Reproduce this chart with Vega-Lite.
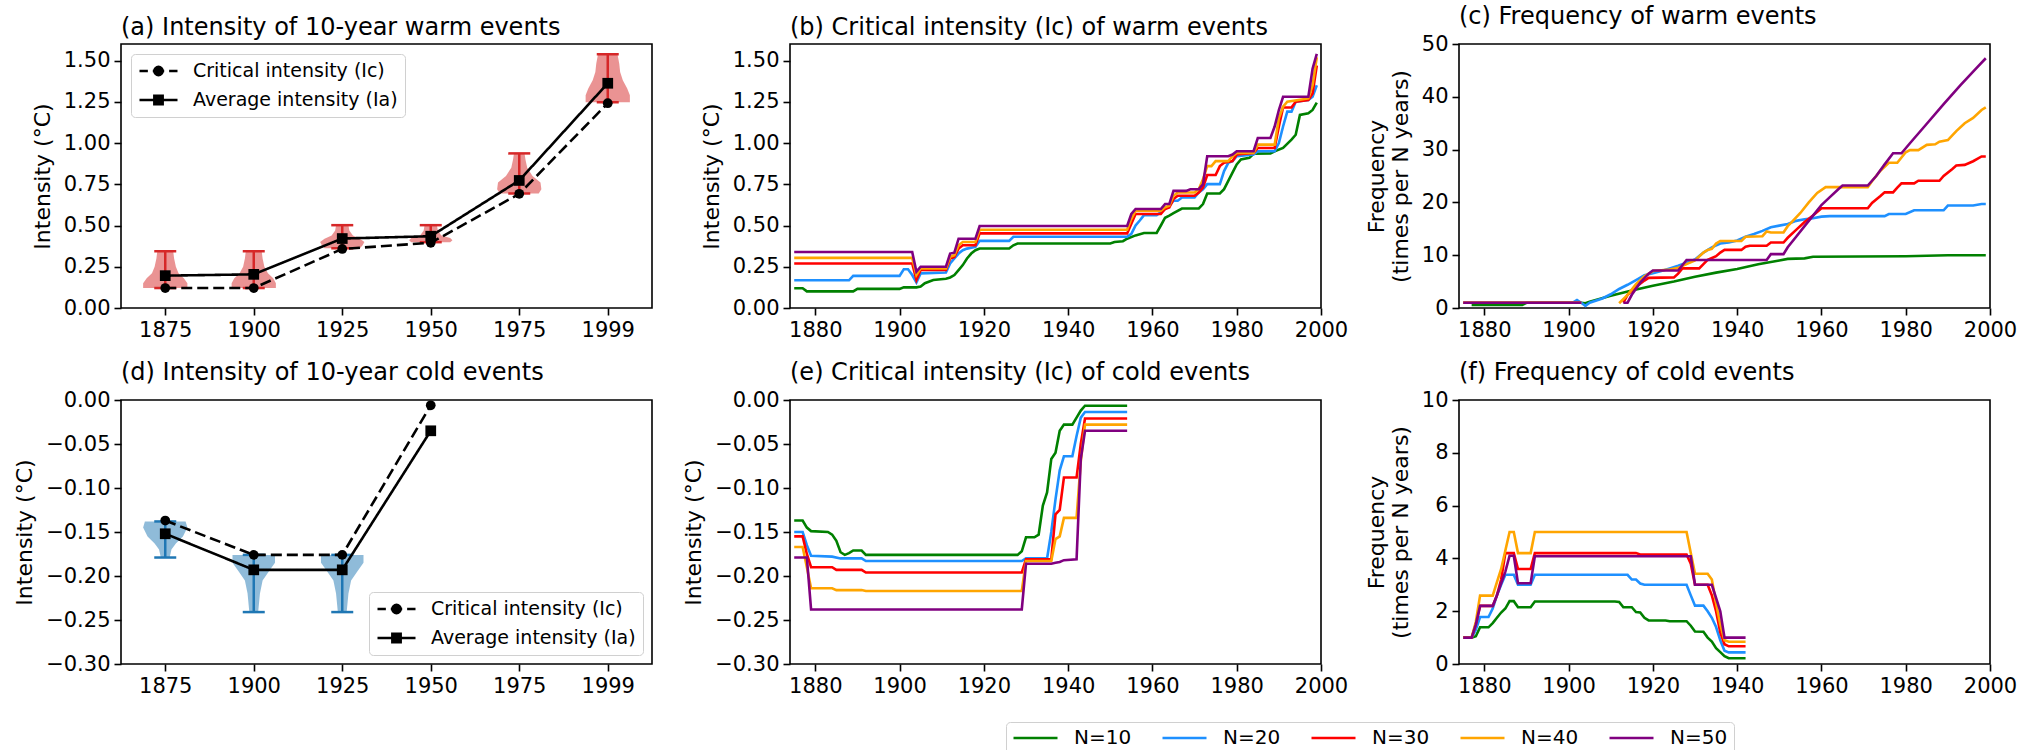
{
"$schema": "https://vega.github.io/schema/vega-lite/v6.json",
"padding": {"left": 12, "top": 4, "right": 5, "bottom": 0},
"background": "white",
"config": {
  "font": "DejaVu Sans",
  "view": {"stroke": "black", "strokeWidth": 1.6},
  "axis": {"grid": false, "domain": false, "tickColor": "black", "tickSize": 7, "tickWidth": 1.6, "labelFontSize": 21, "labelColor": "black", "labelPadding": 4, "titleFontSize": 22, "titleFontWeight": "normal", "titleColor": "black", "titlePadding": 9, "labelFlush": false, "labelOverlap": false},
  "title": {"fontSize": 24, "fontWeight": "normal", "anchor": "start", "frame": "group", "offset": 0, "color": "black"},
  "line": {"strokeWidth": 2.6}
},
"datasets": {
  "a": [
    {"p":0,"s":"Critical intensity (Ic)","v":0.121},{"p":1,"s":"Critical intensity (Ic)","v":0.121},{"p":2,"s":"Critical intensity (Ic)","v":0.358},{"p":3,"s":"Critical intensity (Ic)","v":0.395},{"p":4,"s":"Critical intensity (Ic)","v":0.692},{"p":5,"s":"Critical intensity (Ic)","v":1.241},
    {"p":0,"s":"Average intensity (Ia)","v":0.196},{"p":1,"s":"Average intensity (Ia)","v":0.204},{"p":2,"s":"Average intensity (Ia)","v":0.421},{"p":3,"s":"Average intensity (Ia)","v":0.435},{"p":4,"s":"Average intensity (Ia)","v":0.773},{"p":5,"s":"Average intensity (Ia)","v":1.362}
  ],
  "aerr": [
    {"p":0,"lo":0.121,"hi":0.344},{"p":1,"lo":0.121,"hi":0.344},{"p":2,"lo":0.362,"hi":0.502},{"p":3,"lo":0.399,"hi":0.502},{"p":4,"lo":0.694,"hi":0.937},{"p":5,"lo":1.247,"hi":1.538}
  ],
  "aviol": [
    {"p":0,"y":0.121,"lo":-0.25,"hi":0.25},{"p":0,"y":0.15,"lo":-0.25,"hi":0.25},{"p":0,"y":0.18,"lo":-0.21,"hi":0.21},{"p":0,"y":0.21,"lo":-0.15,"hi":0.15},{"p":0,"y":0.25,"lo":-0.12,"hi":0.12},{"p":0,"y":0.30,"lo":-0.10,"hi":0.10},{"p":0,"y":0.344,"lo":-0.09,"hi":0.09},
    {"p":1,"y":0.121,"lo":0.75,"hi":1.25},{"p":1,"y":0.15,"lo":0.75,"hi":1.25},{"p":1,"y":0.18,"lo":0.78,"hi":1.22},{"p":1,"y":0.21,"lo":0.84,"hi":1.16},{"p":1,"y":0.25,"lo":0.88,"hi":1.12},{"p":1,"y":0.30,"lo":0.90,"hi":1.10},{"p":1,"y":0.344,"lo":0.91,"hi":1.09},
    {"p":2,"y":0.362,"lo":1.80,"hi":2.20},{"p":2,"y":0.38,"lo":1.77,"hi":2.23},{"p":2,"y":0.40,"lo":1.75,"hi":2.25},{"p":2,"y":0.42,"lo":1.80,"hi":2.20},{"p":2,"y":0.44,"lo":1.88,"hi":2.12},{"p":2,"y":0.47,"lo":1.92,"hi":2.08},{"p":2,"y":0.502,"lo":1.93,"hi":2.07},
    {"p":3,"y":0.399,"lo":2.78,"hi":3.22},{"p":3,"y":0.41,"lo":2.755,"hi":3.245},{"p":3,"y":0.425,"lo":2.78,"hi":3.22},{"p":3,"y":0.44,"lo":2.88,"hi":3.12},{"p":3,"y":0.47,"lo":2.92,"hi":3.08},{"p":3,"y":0.502,"lo":2.93,"hi":3.07},
    {"p":4,"y":0.694,"lo":3.78,"hi":4.22},{"p":4,"y":0.72,"lo":3.75,"hi":4.25},{"p":4,"y":0.76,"lo":3.76,"hi":4.24},{"p":4,"y":0.80,"lo":3.85,"hi":4.15},{"p":4,"y":0.85,"lo":3.91,"hi":4.09},{"p":4,"y":0.90,"lo":3.93,"hi":4.07},{"p":4,"y":0.937,"lo":3.94,"hi":4.06},
    {"p":5,"y":1.247,"lo":4.75,"hi":5.25},{"p":5,"y":1.29,"lo":4.75,"hi":5.25},{"p":5,"y":1.33,"lo":4.78,"hi":5.22},{"p":5,"y":1.38,"lo":4.83,"hi":5.17},{"p":5,"y":1.43,"lo":4.86,"hi":5.14},{"p":5,"y":1.48,"lo":4.87,"hi":5.13},{"p":5,"y":1.538,"lo":4.89,"hi":5.11}
  ],
  "d": [
    {"p":0,"s":"Critical intensity (Ic)","v":-0.137},{"p":1,"s":"Critical intensity (Ic)","v":-0.176},{"p":2,"s":"Critical intensity (Ic)","v":-0.176},{"p":3,"s":"Critical intensity (Ic)","v":-0.006},
    {"p":0,"s":"Average intensity (Ia)","v":-0.152},{"p":1,"s":"Average intensity (Ia)","v":-0.193},{"p":2,"s":"Average intensity (Ia)","v":-0.193},{"p":3,"s":"Average intensity (Ia)","v":-0.035}
  ],
  "derr": [
    {"p":0,"lo":-0.179,"hi":-0.138},{"p":1,"lo":-0.241,"hi":-0.176},{"p":2,"lo":-0.241,"hi":-0.176}
  ],
  "dviol": [
    {"p":0,"y":-0.179,"lo":-0.05,"hi":0.05},{"p":0,"y":-0.17,"lo":-0.07,"hi":0.07},{"p":0,"y":-0.163,"lo":-0.12,"hi":0.12},{"p":0,"y":-0.155,"lo":-0.20,"hi":0.20},{"p":0,"y":-0.145,"lo":-0.25,"hi":0.25},{"p":0,"y":-0.138,"lo":-0.23,"hi":0.23},
    {"p":1,"y":-0.241,"lo":0.95,"hi":1.05},{"p":1,"y":-0.22,"lo":0.93,"hi":1.07},{"p":1,"y":-0.205,"lo":0.90,"hi":1.10},{"p":1,"y":-0.195,"lo":0.83,"hi":1.17},{"p":1,"y":-0.185,"lo":0.76,"hi":1.24},{"p":1,"y":-0.176,"lo":0.76,"hi":1.24},
    {"p":2,"y":-0.241,"lo":1.95,"hi":2.05},{"p":2,"y":-0.22,"lo":1.93,"hi":2.07},{"p":2,"y":-0.205,"lo":1.90,"hi":2.10},{"p":2,"y":-0.195,"lo":1.83,"hi":2.17},{"p":2,"y":-0.185,"lo":1.76,"hi":2.24},{"p":2,"y":-0.176,"lo":1.76,"hi":2.24}
  ],
  "b": [
    {"N":"N=10","t":1875,"v":0.12},{"N":"N=10","t":1877,"v":0.12},{"N":"N=10","t":1878,"v":0.101},{"N":"N=10","t":1889,"v":0.101},{"N":"N=10","t":1890,"v":0.116},{"N":"N=10","t":1900,"v":0.116},{"N":"N=10","t":1901,"v":0.126},{"N":"N=10","t":1904,"v":0.125},{"N":"N=10","t":1905,"v":0.13},{"N":"N=10","t":1906,"v":0.15},{"N":"N=10","t":1908,"v":0.17},{"N":"N=10","t":1911,"v":0.177},{"N":"N=10","t":1912,"v":0.185},{"N":"N=10","t":1913,"v":0.2},{"N":"N=10","t":1914,"v":0.23},{"N":"N=10","t":1915,"v":0.26},{"N":"N=10","t":1916,"v":0.30},{"N":"N=10","t":1917,"v":0.33},{"N":"N=10","t":1918,"v":0.35},{"N":"N=10","t":1919,"v":0.361},{"N":"N=10","t":1926,"v":0.361},{"N":"N=10","t":1927,"v":0.38},{"N":"N=10","t":1928,"v":0.391},{"N":"N=10","t":1950,"v":0.391},{"N":"N=10","t":1951,"v":0.40},{"N":"N=10","t":1953,"v":0.405},{"N":"N=10","t":1954,"v":0.42},{"N":"N=10","t":1956,"v":0.44},{"N":"N=10","t":1958,"v":0.455},{"N":"N=10","t":1961,"v":0.455},{"N":"N=10","t":1962,"v":0.50},{"N":"N=10","t":1963,"v":0.547},{"N":"N=10","t":1964,"v":0.56},{"N":"N=10","t":1965,"v":0.575},{"N":"N=10","t":1967,"v":0.603},{"N":"N=10","t":1971,"v":0.603},{"N":"N=10","t":1972,"v":0.63},{"N":"N=10","t":1973,"v":0.694},{"N":"N=10","t":1976,"v":0.694},{"N":"N=10","t":1977,"v":0.72},{"N":"N=10","t":1978,"v":0.77},{"N":"N=10","t":1979,"v":0.82},{"N":"N=10","t":1980,"v":0.87},{"N":"N=10","t":1981,"v":0.90},{"N":"N=10","t":1983,"v":0.91},{"N":"N=10","t":1984,"v":0.935},{"N":"N=10","t":1988,"v":0.937},{"N":"N=10","t":1989,"v":0.95},{"N":"N=10","t":1991,"v":0.97},{"N":"N=10","t":1993,"v":1.02},{"N":"N=10","t":1994,"v":1.05},{"N":"N=10","t":1995,"v":1.17},{"N":"N=10","t":1997,"v":1.18},{"N":"N=10","t":1998,"v":1.2},{"N":"N=10","t":1999,"v":1.245},
    {"N":"N=20","t":1875,"v":0.168},{"N":"N=20","t":1888,"v":0.168},{"N":"N=20","t":1889,"v":0.195},{"N":"N=20","t":1900,"v":0.195},{"N":"N=20","t":1901,"v":0.235},{"N":"N=20","t":1902,"v":0.235},{"N":"N=20","t":1903,"v":0.20},{"N":"N=20","t":1904,"v":0.155},{"N":"N=20","t":1905,"v":0.21},{"N":"N=20","t":1911,"v":0.215},{"N":"N=20","t":1912,"v":0.27},{"N":"N=20","t":1913,"v":0.30},{"N":"N=20","t":1914,"v":0.33},{"N":"N=20","t":1915,"v":0.35},{"N":"N=20","t":1916,"v":0.36},{"N":"N=20","t":1918,"v":0.37},{"N":"N=20","t":1919,"v":0.407},{"N":"N=20","t":1926,"v":0.407},{"N":"N=20","t":1927,"v":0.432},{"N":"N=20","t":1954,"v":0.432},{"N":"N=20","t":1955,"v":0.45},{"N":"N=20","t":1956,"v":0.50},{"N":"N=20","t":1957,"v":0.53},{"N":"N=20","t":1958,"v":0.563},{"N":"N=20","t":1961,"v":0.563},{"N":"N=20","t":1962,"v":0.58},{"N":"N=20","t":1963,"v":0.60},{"N":"N=20","t":1964,"v":0.62},{"N":"N=20","t":1965,"v":0.65},{"N":"N=20","t":1966,"v":0.65},{"N":"N=20","t":1967,"v":0.67},{"N":"N=20","t":1970,"v":0.67},{"N":"N=20","t":1971,"v":0.70},{"N":"N=20","t":1972,"v":0.72},{"N":"N=20","t":1973,"v":0.751},{"N":"N=20","t":1976,"v":0.751},{"N":"N=20","t":1977,"v":0.83},{"N":"N=20","t":1978,"v":0.88},{"N":"N=20","t":1979,"v":0.89},{"N":"N=20","t":1980,"v":0.92},{"N":"N=20","t":1984,"v":0.93},{"N":"N=20","t":1985,"v":0.95},{"N":"N=20","t":1989,"v":0.95},{"N":"N=20","t":1990,"v":1.0},{"N":"N=20","t":1991,"v":1.10},{"N":"N=20","t":1992,"v":1.19},{"N":"N=20","t":1993,"v":1.19},{"N":"N=20","t":1994,"v":1.25},{"N":"N=20","t":1997,"v":1.26},{"N":"N=20","t":1998,"v":1.28},{"N":"N=20","t":1999,"v":1.35},
    {"N":"N=30","t":1875,"v":0.27},{"N":"N=30","t":1903,"v":0.27},{"N":"N=30","t":1904,"v":0.17},{"N":"N=30","t":1905,"v":0.23},{"N":"N=30","t":1911,"v":0.23},{"N":"N=30","t":1912,"v":0.30},{"N":"N=30","t":1913,"v":0.31},{"N":"N=30","t":1914,"v":0.36},{"N":"N=30","t":1915,"v":0.38},{"N":"N=30","t":1918,"v":0.38},{"N":"N=30","t":1919,"v":0.452},{"N":"N=30","t":1954,"v":0.452},{"N":"N=30","t":1955,"v":0.51},{"N":"N=30","t":1956,"v":0.57},{"N":"N=30","t":1962,"v":0.57},{"N":"N=30","t":1963,"v":0.60},{"N":"N=30","t":1964,"v":0.61},{"N":"N=30","t":1965,"v":0.66},{"N":"N=30","t":1966,"v":0.68},{"N":"N=30","t":1970,"v":0.68},{"N":"N=30","t":1971,"v":0.70},{"N":"N=30","t":1972,"v":0.73},{"N":"N=30","t":1973,"v":0.806},{"N":"N=30","t":1975,"v":0.806},{"N":"N=30","t":1976,"v":0.86},{"N":"N=30","t":1977,"v":0.88},{"N":"N=30","t":1979,"v":0.89},{"N":"N=30","t":1980,"v":0.93},{"N":"N=30","t":1984,"v":0.94},{"N":"N=30","t":1985,"v":0.97},{"N":"N=30","t":1989,"v":0.97},{"N":"N=30","t":1990,"v":1.10},{"N":"N=30","t":1991,"v":1.215},{"N":"N=30","t":1993,"v":1.215},{"N":"N=30","t":1994,"v":1.25},{"N":"N=30","t":1997,"v":1.26},{"N":"N=30","t":1998,"v":1.30},{"N":"N=30","t":1999,"v":1.47},
    {"N":"N=40","t":1875,"v":0.304},{"N":"N=40","t":1903,"v":0.304},{"N":"N=40","t":1904,"v":0.20},{"N":"N=40","t":1905,"v":0.24},{"N":"N=40","t":1911,"v":0.24},{"N":"N=40","t":1912,"v":0.31},{"N":"N=40","t":1913,"v":0.32},{"N":"N=40","t":1914,"v":0.38},{"N":"N=40","t":1915,"v":0.40},{"N":"N=40","t":1918,"v":0.40},{"N":"N=40","t":1919,"v":0.474},{"N":"N=40","t":1954,"v":0.474},{"N":"N=40","t":1955,"v":0.54},{"N":"N=40","t":1956,"v":0.59},{"N":"N=40","t":1962,"v":0.59},{"N":"N=40","t":1963,"v":0.61},{"N":"N=40","t":1964,"v":0.62},{"N":"N=40","t":1965,"v":0.68},{"N":"N=40","t":1966,"v":0.70},{"N":"N=40","t":1970,"v":0.70},{"N":"N=40","t":1971,"v":0.72},{"N":"N=40","t":1972,"v":0.78},{"N":"N=40","t":1973,"v":0.86},{"N":"N=40","t":1974,"v":0.86},{"N":"N=40","t":1975,"v":0.89},{"N":"N=40","t":1978,"v":0.89},{"N":"N=40","t":1979,"v":0.92},{"N":"N=40","t":1980,"v":0.94},{"N":"N=40","t":1984,"v":0.94},{"N":"N=40","t":1985,"v":0.99},{"N":"N=40","t":1989,"v":0.99},{"N":"N=40","t":1990,"v":1.15},{"N":"N=40","t":1991,"v":1.22},{"N":"N=40","t":1992,"v":1.25},{"N":"N=40","t":1997,"v":1.27},{"N":"N=40","t":1998,"v":1.35},{"N":"N=40","t":1999,"v":1.52},
    {"N":"N=50","t":1875,"v":0.339},{"N":"N=50","t":1903,"v":0.339},{"N":"N=50","t":1904,"v":0.22},{"N":"N=50","t":1905,"v":0.25},{"N":"N=50","t":1911,"v":0.25},{"N":"N=50","t":1912,"v":0.33},{"N":"N=50","t":1913,"v":0.335},{"N":"N=50","t":1914,"v":0.42},{"N":"N=50","t":1918,"v":0.42},{"N":"N=50","t":1919,"v":0.497},{"N":"N=50","t":1954,"v":0.497},{"N":"N=50","t":1955,"v":0.57},{"N":"N=50","t":1956,"v":0.60},{"N":"N=50","t":1962,"v":0.60},{"N":"N=50","t":1963,"v":0.63},{"N":"N=50","t":1964,"v":0.63},{"N":"N=50","t":1965,"v":0.71},{"N":"N=50","t":1968,"v":0.71},{"N":"N=50","t":1969,"v":0.72},{"N":"N=50","t":1971,"v":0.72},{"N":"N=50","t":1972,"v":0.75},{"N":"N=50","t":1973,"v":0.92},{"N":"N=50","t":1978,"v":0.92},{"N":"N=50","t":1979,"v":0.93},{"N":"N=50","t":1980,"v":0.95},{"N":"N=50","t":1984,"v":0.95},{"N":"N=50","t":1985,"v":1.03},{"N":"N=50","t":1988,"v":1.03},{"N":"N=50","t":1989,"v":1.10},{"N":"N=50","t":1990,"v":1.20},{"N":"N=50","t":1991,"v":1.28},{"N":"N=50","t":1997,"v":1.28},{"N":"N=50","t":1998,"v":1.45},{"N":"N=50","t":1999,"v":1.54}
  ],
  "c": [
    {"N":"N=10","s":1,"t":1877,"v":0.6},{"N":"N=10","s":1,"t":1889,"v":0.6},{"N":"N=10","s":1,"t":1890,"v":1.0},{"N":"N=10","s":1,"t":1903,"v":1.0},{"N":"N=10","s":1,"t":1904,"v":0.9},{"N":"N=10","s":1,"t":1905,"v":1.2},{"N":"N=10","s":1,"t":1910,"v":2.3},{"N":"N=10","s":1,"t":1915,"v":3.3},{"N":"N=10","s":1,"t":1920,"v":4.2},{"N":"N=10","s":1,"t":1925,"v":5.0},{"N":"N=10","s":1,"t":1930,"v":5.9},{"N":"N=10","s":1,"t":1935,"v":6.7},{"N":"N=10","s":1,"t":1940,"v":7.4},{"N":"N=10","s":1,"t":1945,"v":8.3},{"N":"N=10","s":1,"t":1950,"v":9.0},{"N":"N=10","s":1,"t":1952,"v":9.3},{"N":"N=10","s":1,"t":1956,"v":9.4},{"N":"N=10","s":1,"t":1958,"v":9.7},{"N":"N=10","s":1,"t":1980,"v":9.8},{"N":"N=10","s":1,"t":1990,"v":10.0},{"N":"N=10","s":1,"t":1999,"v":10.0},
    {"N":"N=20","s":1,"t":1875,"v":1.0},{"N":"N=20","s":1,"t":1901,"v":1.0},{"N":"N=20","s":1,"t":1902,"v":1.5},{"N":"N=20","s":1,"t":1903,"v":1.0},{"N":"N=20","s":1,"t":1904,"v":0.4},{"N":"N=20","s":1,"t":1905,"v":1.0},{"N":"N=20","s":1,"t":1908,"v":1.8},{"N":"N=20","s":1,"t":1910,"v":2.6},{"N":"N=20","s":1,"t":1912,"v":3.6},{"N":"N=20","s":1,"t":1914,"v":4.4},{"N":"N=20","s":1,"t":1916,"v":5.3},{"N":"N=20","s":1,"t":1918,"v":6.2},{"N":"N=20","s":1,"t":1920,"v":6.6},{"N":"N=20","s":1,"t":1922,"v":7.0},{"N":"N=20","s":1,"t":1924,"v":7.5},{"N":"N=20","s":1,"t":1926,"v":8.0},{"N":"N=20","s":1,"t":1928,"v":8.6},{"N":"N=20","s":1,"t":1930,"v":9.2},{"N":"N=20","s":1,"t":1932,"v":10.5},{"N":"N=20","s":1,"t":1934,"v":11.5},{"N":"N=20","s":1,"t":1936,"v":12.2},{"N":"N=20","s":1,"t":1938,"v":12.4},{"N":"N=20","s":1,"t":1940,"v":12.8},{"N":"N=20","s":1,"t":1942,"v":13.5},{"N":"N=20","s":1,"t":1944,"v":14.0},{"N":"N=20","s":1,"t":1946,"v":14.6},{"N":"N=20","s":1,"t":1948,"v":15.3},{"N":"N=20","s":1,"t":1950,"v":15.6},{"N":"N=20","s":1,"t":1952,"v":15.9},{"N":"N=20","s":1,"t":1954,"v":16.5},{"N":"N=20","s":1,"t":1956,"v":16.8},{"N":"N=20","s":1,"t":1958,"v":17.0},{"N":"N=20","s":1,"t":1960,"v":17.3},{"N":"N=20","s":1,"t":1962,"v":17.4},{"N":"N=20","s":1,"t":1975,"v":17.4},{"N":"N=20","s":1,"t":1976,"v":17.8},{"N":"N=20","s":1,"t":1980,"v":17.8},{"N":"N=20","s":1,"t":1982,"v":18.5},{"N":"N=20","s":1,"t":1989,"v":18.5},{"N":"N=20","s":1,"t":1990,"v":19.4},{"N":"N=20","s":1,"t":1996,"v":19.4},{"N":"N=20","s":1,"t":1998,"v":19.7},{"N":"N=20","s":1,"t":1999,"v":19.7},
    {"N":"N=30","s":1,"t":1875,"v":1.0},{"N":"N=30","s":1,"t":1903,"v":1.0},
    {"N":"N=30","s":2,"t":1913,"v":1.0},{"N":"N=30","s":2,"t":1914,"v":2.5},{"N":"N=30","s":2,"t":1916,"v":4.0},{"N":"N=30","s":2,"t":1918,"v":5.2},{"N":"N=30","s":2,"t":1919,"v":5.7},{"N":"N=30","s":2,"t":1925,"v":5.8},{"N":"N=30","s":2,"t":1926,"v":6.5},{"N":"N=30","s":2,"t":1927,"v":7.5},{"N":"N=30","s":2,"t":1931,"v":7.5},{"N":"N=30","s":2,"t":1932,"v":8.3},{"N":"N=30","s":2,"t":1933,"v":9.1},{"N":"N=30","s":2,"t":1935,"v":9.8},{"N":"N=30","s":2,"t":1936,"v":10.5},{"N":"N=30","s":2,"t":1937,"v":11.0},{"N":"N=30","s":2,"t":1941,"v":11.0},{"N":"N=30","s":2,"t":1942,"v":11.6},{"N":"N=30","s":2,"t":1943,"v":11.8},{"N":"N=30","s":2,"t":1947,"v":11.8},{"N":"N=30","s":2,"t":1948,"v":12.4},{"N":"N=30","s":2,"t":1951,"v":12.4},{"N":"N=30","s":2,"t":1952,"v":13.3},{"N":"N=30","s":2,"t":1954,"v":14.8},{"N":"N=30","s":2,"t":1956,"v":16.3},{"N":"N=30","s":2,"t":1958,"v":17.5},{"N":"N=30","s":2,"t":1960,"v":18.9},{"N":"N=30","s":2,"t":1971,"v":18.9},{"N":"N=30","s":2,"t":1972,"v":19.9},{"N":"N=30","s":2,"t":1974,"v":21.2},{"N":"N=30","s":2,"t":1975,"v":21.9},{"N":"N=30","s":2,"t":1977,"v":21.9},{"N":"N=30","s":2,"t":1978,"v":22.8},{"N":"N=30","s":2,"t":1979,"v":23.6},{"N":"N=30","s":2,"t":1982,"v":23.6},{"N":"N=30","s":2,"t":1983,"v":24.1},{"N":"N=30","s":2,"t":1988,"v":24.1},{"N":"N=30","s":2,"t":1989,"v":25.0},{"N":"N=30","s":2,"t":1991,"v":26.3},{"N":"N=30","s":2,"t":1992,"v":27.0},{"N":"N=30","s":2,"t":1994,"v":27.1},{"N":"N=30","s":2,"t":1996,"v":27.8},{"N":"N=30","s":2,"t":1998,"v":28.7},{"N":"N=30","s":2,"t":1999,"v":28.7},
    {"N":"N=40","s":1,"t":1875,"v":1.0},{"N":"N=40","s":1,"t":1903,"v":1.0},
    {"N":"N=40","s":2,"t":1912,"v":0.9},{"N":"N=40","s":2,"t":1914,"v":2.5},{"N":"N=40","s":2,"t":1916,"v":4.5},{"N":"N=40","s":2,"t":1918,"v":6.0},{"N":"N=40","s":2,"t":1920,"v":7.0},{"N":"N=40","s":2,"t":1924,"v":7.3},{"N":"N=40","s":2,"t":1926,"v":7.6},{"N":"N=40","s":2,"t":1928,"v":8.3},{"N":"N=40","s":2,"t":1930,"v":9.0},{"N":"N=40","s":2,"t":1932,"v":10.5},{"N":"N=40","s":2,"t":1933,"v":11.0},{"N":"N=40","s":2,"t":1934,"v":11.2},{"N":"N=40","s":2,"t":1935,"v":12.2},{"N":"N=40","s":2,"t":1936,"v":12.7},{"N":"N=40","s":2,"t":1941,"v":12.7},{"N":"N=40","s":2,"t":1942,"v":13.5},{"N":"N=40","s":2,"t":1946,"v":13.6},{"N":"N=40","s":2,"t":1947,"v":14.5},{"N":"N=40","s":2,"t":1948,"v":14.3},{"N":"N=40","s":2,"t":1951,"v":14.3},{"N":"N=40","s":2,"t":1952,"v":15.5},{"N":"N=40","s":2,"t":1953,"v":16.3},{"N":"N=40","s":2,"t":1955,"v":18.0},{"N":"N=40","s":2,"t":1957,"v":20.0},{"N":"N=40","s":2,"t":1959,"v":21.8},{"N":"N=40","s":2,"t":1961,"v":22.9},{"N":"N=40","s":2,"t":1971,"v":22.9},{"N":"N=40","s":2,"t":1972,"v":24.0},{"N":"N=40","s":2,"t":1974,"v":26.0},{"N":"N=40","s":2,"t":1976,"v":27.5},{"N":"N=40","s":2,"t":1978,"v":27.5},{"N":"N=40","s":2,"t":1980,"v":29.5},{"N":"N=40","s":2,"t":1981,"v":29.9},{"N":"N=40","s":2,"t":1983,"v":29.9},{"N":"N=40","s":2,"t":1985,"v":30.9},{"N":"N=40","s":2,"t":1987,"v":31.0},{"N":"N=40","s":2,"t":1988,"v":31.5},{"N":"N=40","s":2,"t":1990,"v":31.8},{"N":"N=40","s":2,"t":1992,"v":33.5},{"N":"N=40","s":2,"t":1994,"v":35.0},{"N":"N=40","s":2,"t":1996,"v":36.0},{"N":"N=40","s":2,"t":1998,"v":37.5},{"N":"N=40","s":2,"t":1999,"v":38.0},
    {"N":"N=50","s":1,"t":1875,"v":1.0},{"N":"N=50","s":1,"t":1903,"v":1.0},
    {"N":"N=50","s":2,"t":1913,"v":1.0},{"N":"N=50","s":2,"t":1914,"v":1.0},{"N":"N=50","s":2,"t":1915,"v":2.5},{"N":"N=50","s":2,"t":1917,"v":4.8},{"N":"N=50","s":2,"t":1919,"v":6.5},{"N":"N=50","s":2,"t":1920,"v":7.1},{"N":"N=50","s":2,"t":1926,"v":7.1},{"N":"N=50","s":2,"t":1927,"v":8.1},{"N":"N=50","s":2,"t":1928,"v":9.1},{"N":"N=50","s":2,"t":1947,"v":9.1},{"N":"N=50","s":2,"t":1948,"v":10.2},{"N":"N=50","s":2,"t":1951,"v":10.2},{"N":"N=50","s":2,"t":1952,"v":11.5},{"N":"N=50","s":2,"t":1954,"v":13.5},{"N":"N=50","s":2,"t":1956,"v":15.5},{"N":"N=50","s":2,"t":1958,"v":17.5},{"N":"N=50","s":2,"t":1960,"v":19.5},{"N":"N=50","s":2,"t":1962,"v":21.0},{"N":"N=50","s":2,"t":1964,"v":22.5},{"N":"N=50","s":2,"t":1965,"v":23.2},{"N":"N=50","s":2,"t":1971,"v":23.2},{"N":"N=50","s":2,"t":1973,"v":25.0},{"N":"N=50","s":2,"t":1975,"v":27.2},{"N":"N=50","s":2,"t":1977,"v":29.3},{"N":"N=50","s":2,"t":1979,"v":29.3},{"N":"N=50","s":2,"t":1981,"v":31.2},{"N":"N=50","s":2,"t":1985,"v":34.9},{"N":"N=50","s":2,"t":1989,"v":38.6},{"N":"N=50","s":2,"t":1993,"v":42.2},{"N":"N=50","s":2,"t":1997,"v":45.6},{"N":"N=50","s":2,"t":1999,"v":47.3}
  ],
  "e": [
    {"N":"N=10","t":1875,"v":-0.137},{"N":"N=10","t":1877,"v":-0.137},{"N":"N=10","t":1878,"v":-0.145},{"N":"N=10","t":1879,"v":-0.149},{"N":"N=10","t":1883,"v":-0.15},{"N":"N=10","t":1884,"v":-0.153},{"N":"N=10","t":1885,"v":-0.16},{"N":"N=10","t":1886,"v":-0.173},{"N":"N=10","t":1887,"v":-0.176},{"N":"N=10","t":1888,"v":-0.174},{"N":"N=10","t":1889,"v":-0.171},{"N":"N=10","t":1891,"v":-0.171},{"N":"N=10","t":1892,"v":-0.176},{"N":"N=10","t":1928,"v":-0.176},{"N":"N=10","t":1929,"v":-0.172},{"N":"N=10","t":1930,"v":-0.156},{"N":"N=10","t":1932,"v":-0.156},{"N":"N=10","t":1933,"v":-0.153},{"N":"N=10","t":1934,"v":-0.12},{"N":"N=10","t":1935,"v":-0.105},{"N":"N=10","t":1936,"v":-0.067},{"N":"N=10","t":1937,"v":-0.06},{"N":"N=10","t":1938,"v":-0.035},{"N":"N=10","t":1939,"v":-0.028},{"N":"N=10","t":1941,"v":-0.028},{"N":"N=10","t":1942,"v":-0.02},{"N":"N=10","t":1943,"v":-0.012},{"N":"N=10","t":1944,"v":-0.0065},{"N":"N=10","t":1954,"v":-0.0065},
    {"N":"N=20","t":1875,"v":-0.150},{"N":"N=20","t":1877,"v":-0.150},{"N":"N=20","t":1878,"v":-0.165},{"N":"N=20","t":1879,"v":-0.177},{"N":"N=20","t":1884,"v":-0.178},{"N":"N=20","t":1886,"v":-0.18},{"N":"N=20","t":1891,"v":-0.18},{"N":"N=20","t":1892,"v":-0.183},{"N":"N=20","t":1929,"v":-0.183},{"N":"N=20","t":1930,"v":-0.180},{"N":"N=20","t":1935,"v":-0.180},{"N":"N=20","t":1936,"v":-0.15},{"N":"N=20","t":1937,"v":-0.113},{"N":"N=20","t":1938,"v":-0.08},{"N":"N=20","t":1939,"v":-0.064},{"N":"N=20","t":1941,"v":-0.064},{"N":"N=20","t":1942,"v":-0.041},{"N":"N=20","t":1943,"v":-0.02},{"N":"N=20","t":1944,"v":-0.0136},{"N":"N=20","t":1954,"v":-0.0136},
    {"N":"N=30","t":1875,"v":-0.155},{"N":"N=30","t":1877,"v":-0.155},{"N":"N=30","t":1878,"v":-0.175},{"N":"N=30","t":1879,"v":-0.190},{"N":"N=30","t":1884,"v":-0.190},{"N":"N=30","t":1885,"v":-0.193},{"N":"N=30","t":1891,"v":-0.193},{"N":"N=30","t":1892,"v":-0.196},{"N":"N=30","t":1929,"v":-0.196},{"N":"N=30","t":1930,"v":-0.181},{"N":"N=30","t":1936,"v":-0.181},{"N":"N=30","t":1937,"v":-0.13},{"N":"N=30","t":1938,"v":-0.125},{"N":"N=30","t":1939,"v":-0.088},{"N":"N=30","t":1942,"v":-0.088},{"N":"N=30","t":1943,"v":-0.05},{"N":"N=30","t":1944,"v":-0.021},{"N":"N=30","t":1954,"v":-0.021},
    {"N":"N=40","t":1875,"v":-0.167},{"N":"N=40","t":1877,"v":-0.167},{"N":"N=40","t":1878,"v":-0.19},{"N":"N=40","t":1879,"v":-0.214},{"N":"N=40","t":1884,"v":-0.214},{"N":"N=40","t":1885,"v":-0.216},{"N":"N=40","t":1891,"v":-0.216},{"N":"N=40","t":1892,"v":-0.217},{"N":"N=40","t":1929,"v":-0.217},{"N":"N=40","t":1930,"v":-0.183},{"N":"N=40","t":1936,"v":-0.183},{"N":"N=40","t":1937,"v":-0.158},{"N":"N=40","t":1938,"v":-0.155},{"N":"N=40","t":1939,"v":-0.134},{"N":"N=40","t":1942,"v":-0.134},{"N":"N=40","t":1943,"v":-0.07},{"N":"N=40","t":1944,"v":-0.028},{"N":"N=40","t":1954,"v":-0.028},
    {"N":"N=50","t":1875,"v":-0.179},{"N":"N=50","t":1878,"v":-0.179},{"N":"N=50","t":1879,"v":-0.238},{"N":"N=50","t":1929,"v":-0.238},{"N":"N=50","t":1930,"v":-0.186},{"N":"N=50","t":1936,"v":-0.186},{"N":"N=50","t":1937,"v":-0.185},{"N":"N=50","t":1938,"v":-0.184},{"N":"N=50","t":1939,"v":-0.182},{"N":"N=50","t":1942,"v":-0.181},{"N":"N=50","t":1943,"v":-0.067},{"N":"N=50","t":1944,"v":-0.035},{"N":"N=50","t":1954,"v":-0.035}
  ],
  "f": [
    {"N":"N=10","t":1875,"v":1.0},{"N":"N=10","t":1877,"v":1.0},{"N":"N=10","t":1878,"v":1.05},{"N":"N=10","t":1879,"v":1.39},{"N":"N=10","t":1881,"v":1.39},{"N":"N=10","t":1882,"v":1.55},{"N":"N=10","t":1883,"v":1.75},{"N":"N=10","t":1884,"v":1.95},{"N":"N=10","t":1885,"v":2.1},{"N":"N=10","t":1886,"v":2.38},{"N":"N=10","t":1887,"v":2.38},{"N":"N=10","t":1888,"v":2.15},{"N":"N=10","t":1891,"v":2.15},{"N":"N=10","t":1892,"v":2.37},{"N":"N=10","t":1911,"v":2.37},{"N":"N=10","t":1912,"v":2.35},{"N":"N=10","t":1913,"v":2.15},{"N":"N=10","t":1915,"v":2.15},{"N":"N=10","t":1916,"v":1.97},{"N":"N=10","t":1917,"v":1.95},{"N":"N=10","t":1918,"v":1.75},{"N":"N=10","t":1919,"v":1.65},{"N":"N=10","t":1923,"v":1.65},{"N":"N=10","t":1924,"v":1.62},{"N":"N=10","t":1928,"v":1.62},{"N":"N=10","t":1929,"v":1.45},{"N":"N=10","t":1930,"v":1.23},{"N":"N=10","t":1932,"v":1.22},{"N":"N=10","t":1933,"v":1.0},{"N":"N=10","t":1934,"v":0.85},{"N":"N=10","t":1935,"v":0.6},{"N":"N=10","t":1936,"v":0.45},{"N":"N=10","t":1937,"v":0.3},{"N":"N=10","t":1938,"v":0.22},{"N":"N=10","t":1942,"v":0.22},
    {"N":"N=20","t":1875,"v":1.0},{"N":"N=20","t":1877,"v":1.0},{"N":"N=20","t":1878,"v":1.3},{"N":"N=20","t":1879,"v":1.78},{"N":"N=20","t":1881,"v":1.78},{"N":"N=20","t":1882,"v":2.1},{"N":"N=20","t":1883,"v":2.6},{"N":"N=20","t":1884,"v":3.0},{"N":"N=20","t":1885,"v":3.38},{"N":"N=20","t":1887,"v":3.38},{"N":"N=20","t":1888,"v":3.0},{"N":"N=20","t":1891,"v":3.0},{"N":"N=20","t":1892,"v":3.38},{"N":"N=20","t":1914,"v":3.38},{"N":"N=20","t":1915,"v":3.2},{"N":"N=20","t":1916,"v":3.2},{"N":"N=20","t":1917,"v":3.05},{"N":"N=20","t":1918,"v":3.0},{"N":"N=20","t":1928,"v":3.0},{"N":"N=20","t":1929,"v":2.6},{"N":"N=20","t":1930,"v":2.21},{"N":"N=20","t":1932,"v":2.21},{"N":"N=20","t":1933,"v":2.0},{"N":"N=20","t":1934,"v":1.75},{"N":"N=20","t":1935,"v":1.4},{"N":"N=20","t":1936,"v":0.9},{"N":"N=20","t":1937,"v":0.5},{"N":"N=20","t":1938,"v":0.44},{"N":"N=20","t":1942,"v":0.44},
    {"N":"N=30","t":1875,"v":1.0},{"N":"N=30","t":1877,"v":1.0},{"N":"N=30","t":1878,"v":1.5},{"N":"N=30","t":1879,"v":2.2},{"N":"N=30","t":1882,"v":2.2},{"N":"N=30","t":1883,"v":2.6},{"N":"N=30","t":1884,"v":3.2},{"N":"N=30","t":1885,"v":4.2},{"N":"N=30","t":1887,"v":4.2},{"N":"N=30","t":1888,"v":3.6},{"N":"N=30","t":1891,"v":3.6},{"N":"N=30","t":1892,"v":4.2},{"N":"N=30","t":1916,"v":4.2},{"N":"N=30","t":1917,"v":4.15},{"N":"N=30","t":1928,"v":4.15},{"N":"N=30","t":1929,"v":3.8},{"N":"N=30","t":1930,"v":3.0},{"N":"N=30","t":1933,"v":3.0},{"N":"N=30","t":1934,"v":2.6},{"N":"N=30","t":1935,"v":2.0},{"N":"N=30","t":1936,"v":1.2},{"N":"N=30","t":1937,"v":0.75},{"N":"N=30","t":1938,"v":0.67},{"N":"N=30","t":1942,"v":0.67},
    {"N":"N=40","t":1875,"v":1.0},{"N":"N=40","t":1877,"v":1.0},{"N":"N=40","t":1878,"v":1.6},{"N":"N=40","t":1879,"v":2.59},{"N":"N=40","t":1882,"v":2.59},{"N":"N=40","t":1883,"v":3.1},{"N":"N=40","t":1884,"v":3.6},{"N":"N=40","t":1885,"v":4.3},{"N":"N=40","t":1886,"v":5.0},{"N":"N=40","t":1887,"v":5.0},{"N":"N=40","t":1888,"v":4.2},{"N":"N=40","t":1891,"v":4.2},{"N":"N=40","t":1892,"v":5.0},{"N":"N=40","t":1928,"v":5.0},{"N":"N=40","t":1929,"v":4.2},{"N":"N=40","t":1930,"v":3.42},{"N":"N=40","t":1933,"v":3.42},{"N":"N=40","t":1934,"v":3.2},{"N":"N=40","t":1935,"v":2.3},{"N":"N=40","t":1936,"v":1.5},{"N":"N=40","t":1937,"v":0.9},{"N":"N=40","t":1938,"v":0.84},{"N":"N=40","t":1942,"v":0.84},
    {"N":"N=50","t":1875,"v":1.0},{"N":"N=50","t":1877,"v":1.0},{"N":"N=50","t":1878,"v":1.5},{"N":"N=50","t":1879,"v":2.2},{"N":"N=50","t":1882,"v":2.2},{"N":"N=50","t":1883,"v":2.6},{"N":"N=50","t":1884,"v":3.06},{"N":"N=50","t":1885,"v":3.5},{"N":"N=50","t":1886,"v":4.1},{"N":"N=50","t":1887,"v":4.1},{"N":"N=50","t":1888,"v":3.06},{"N":"N=50","t":1891,"v":3.06},{"N":"N=50","t":1892,"v":4.08},{"N":"N=50","t":1929,"v":4.08},{"N":"N=50","t":1930,"v":3.0},{"N":"N=50","t":1934,"v":3.0},{"N":"N=50","t":1935,"v":2.5},{"N":"N=50","t":1936,"v":2.0},{"N":"N=50","t":1937,"v":1.0},{"N":"N=50","t":1942,"v":1.0}
  ]
},
"columns": 3,
"spacing": {"row": 92, "column": 138},
"bounds": "flush",
"resolve": {"scale": {"shape": "independent"}, "legend": {"shape": "independent"}},
"concat": [
  {
    "width": 531, "height": 264,
    "title": "(a) Intensity of 10-year warm events",
    "layer": [
      {"data": {"name": "aviol"}, "mark": {"type": "area", "orient": "horizontal", "color": "#d62728", "opacity": 0.5},
       "encoding": {
         "y": {"field": "y", "type": "quantitative", "scale": {"domain": [0, 1.6], "nice": false, "zero": false}, "axis": {"values": [0, 0.25, 0.5, 0.75, 1, 1.25, 1.5], "format": ".2f", "title": "Intensity (°C)"}},
         "x": {"field": "lo", "type": "quantitative", "stack": null, "scale": {"domain": [-0.5, 5.5], "nice": false, "zero": false}, "axis": {"values": [0, 1, 2, 3, 4, 5], "labelExpr": "['1875','1900','1925','1950','1975','1999'][datum.value]", "title": null}},
         "x2": {"field": "hi"},
         "detail": {"field": "p", "type": "nominal"}
       }},
      {"data": {"name": "aerr"}, "mark": {"type": "rule", "color": "#d62728", "strokeWidth": 2.5},
       "encoding": {"x": {"field": "p", "type": "quantitative"}, "y": {"field": "lo", "type": "quantitative"}, "y2": {"field": "hi"}}},
      {"data": {"name": "aerr"}, "mark": {"type": "tick", "orient": "horizontal", "color": "#d62728", "size": 22, "thickness": 2.5, "opacity": 1},
       "encoding": {"x": {"field": "p", "type": "quantitative"}, "y": {"field": "lo", "type": "quantitative"}}},
      {"data": {"name": "aerr"}, "mark": {"type": "tick", "orient": "horizontal", "color": "#d62728", "size": 22, "thickness": 2.5, "opacity": 1},
       "encoding": {"x": {"field": "p", "type": "quantitative"}, "y": {"field": "hi", "type": "quantitative"}}},
      {"data": {"name": "a"}, "mark": {"type": "line", "color": "black", "strokeWidth": 2.6},
       "encoding": {"x": {"field": "p", "type": "quantitative"}, "y": {"field": "v", "type": "quantitative"},
         "strokeDash": {"field": "s", "type": "nominal", "scale": {"domain": ["Critical intensity (Ic)", "Average intensity (Ia)"], "range": [[11, 5], [1, 0]]}, "legend": null}}},
      {"data": {"name": "a"}, "transform": [{"filter": "datum.s === 'Critical intensity (Ic)'"}], "mark": {"type": "point", "shape": "circle", "filled": true, "color": "black", "size": 95, "opacity": 1},
       "encoding": {"x": {"field": "p", "type": "quantitative"}, "y": {"field": "v", "type": "quantitative"}}},
      {"data": {"name": "a"}, "transform": [{"filter": "datum.s === 'Average intensity (Ia)'"}], "mark": {"type": "point", "shape": "square", "filled": true, "color": "black", "size": 115, "opacity": 1},
       "encoding": {"x": {"field": "p", "type": "quantitative"}, "y": {"field": "v", "type": "quantitative"}}},
      {"data": {"name": "a"}, "mark": {"type": "point", "opacity": 0, "size": 1444, "filled": false, "color": "black"},
       "encoding": {"x": {"field": "p", "type": "quantitative"}, "y": {"field": "v", "type": "quantitative"},
         "shape": {"field": "s", "type": "nominal", "scale": {"domain": ["Critical intensity (Ic)", "Average intensity (Ia)"], "range": ["M-1,0H-0.56M-0.3,0H0.3M0.56,0H1M0.22,0A0.22,0.22,0,1,1,-0.22,0A0.22,0.22,0,1,1,0.22,0ZM0.11,0A0.11,0.11,0,1,1,-0.11,0A0.11,0.11,0,1,1,0.11,0ZM0.02,0A0.02,0.02,0,1,1,-0.02,0A0.02,0.02,0,1,1,0.02,0Z", "M-1,0H1M-0.22,-0.22H0.22V0.22H-0.22ZM-0.11,-0.11H0.11V0.11H-0.11ZM-0.02,-0.02H0.02V0.02H-0.02Z"]},
           "legend": {"title": null, "orient": "top-left", "offset": 10, "padding": 7, "strokeColor": "#d0d0d0", "cornerRadius": 4, "fillColor": "white", "labelFontSize": 19, "labelColor": "black", "labelLimit": 400, "symbolSize": 1444, "symbolStrokeWidth": 2.5, "symbolStrokeColor": "black", "symbolOpacity": 1, "clipHeight": 20, "rowPadding": 9, "labelOffset": 14}}}}
    ]
  },
  {
    "width": 531, "height": 264,
    "title": "(b) Critical intensity (Ic) of warm events",
    "data": {"name": "b"},
    "mark": {"type": "line", "strokeWidth": 2.6},
    "encoding": {
      "x": {"field": "t", "type": "quantitative", "scale": {"domain": [1874, 2000], "nice": false, "zero": false}, "axis": {"values": [1880, 1900, 1920, 1940, 1960, 1980, 2000], "format": "d", "title": null}},
      "y": {"field": "v", "type": "quantitative", "scale": {"domain": [0, 1.6], "nice": false, "zero": false}, "axis": {"values": [0, 0.25, 0.5, 0.75, 1, 1.25, 1.5], "format": ".2f", "title": "Intensity (°C)"}},
      "color": {"field": "N", "type": "nominal", "scale": {"domain": ["N=10", "N=20", "N=30", "N=40", "N=50"], "range": ["green", "#1e90ff", "red", "orange", "purple"]},
        "legend": {"title": null, "orient": "none", "legendX": 885, "legendY": 678, "direction": "horizontal", "symbolType": "stroke", "symbolSize": 1936, "symbolStrokeWidth": 3, "clipHeight": 20, "labelFontSize": 20, "labelColor": "black", "labelOffset": 15, "columnPadding": 29, "padding": 6, "strokeColor": "#d0d0d0", "cornerRadius": 4, "fillColor": "white"}}
    }
  },
  {
    "width": 531, "height": 264,
    "title": "(c) Frequency of warm events",
    "layer": [
      {"mark": {"type": "rule", "color": "black", "strokeWidth": 2.4, "strokeDash": [10, 6]}, "encoding": {"y": {"datum": 1, "type": "quantitative"}}},
      {"data": {"name": "c"}, "mark": {"type": "line", "strokeWidth": 2.6},
       "encoding": {
         "x": {"field": "t", "type": "quantitative", "scale": {"domain": [1874, 2000], "nice": false, "zero": false}, "axis": {"values": [1880, 1900, 1920, 1940, 1960, 1980, 2000], "format": "d", "title": null}},
         "y": {"field": "v", "type": "quantitative", "scale": {"domain": [0, 50], "nice": false, "zero": false}, "axis": {"values": [0, 10, 20, 30, 40, 50], "format": "d", "title": ["Frequency", "(times per N years)"]}},
         "detail": {"field": "s", "type": "nominal"},
         "color": {"field": "N", "type": "nominal", "scale": {"domain": ["N=10", "N=20", "N=30", "N=40", "N=50"], "range": ["green", "#1e90ff", "red", "orange", "purple"]},
           "legend": {"title": null, "orient": "none", "legendX": 885, "legendY": 678, "direction": "horizontal", "symbolType": "stroke", "symbolSize": 1936, "symbolStrokeWidth": 3, "clipHeight": 20, "labelFontSize": 20, "labelColor": "black", "labelOffset": 15, "columnPadding": 29, "padding": 6, "strokeColor": "#d0d0d0", "cornerRadius": 4, "fillColor": "white"}}
       }}
    ]
  },
  {
    "width": 531, "height": 264,
    "title": "(d) Intensity of 10-year cold events",
    "layer": [
      {"data": {"name": "dviol"}, "mark": {"type": "area", "orient": "horizontal", "color": "#1f77b4", "opacity": 0.5},
       "encoding": {
         "y": {"field": "y", "type": "quantitative", "scale": {"domain": [-0.3, 0], "nice": false, "zero": false}, "axis": {"values": [-0.3, -0.25, -0.2, -0.15, -0.1, -0.05, 0], "format": ".2f", "title": "Intensity (°C)"}},
         "x": {"field": "lo", "type": "quantitative", "stack": null, "scale": {"domain": [-0.5, 5.5], "nice": false, "zero": false}, "axis": {"values": [0, 1, 2, 3, 4, 5], "labelExpr": "['1875','1900','1925','1950','1975','1999'][datum.value]", "title": null}},
         "x2": {"field": "hi"},
         "detail": {"field": "p", "type": "nominal"}
       }},
      {"data": {"name": "derr"}, "mark": {"type": "rule", "color": "#1f77b4", "strokeWidth": 2.5},
       "encoding": {"x": {"field": "p", "type": "quantitative"}, "y": {"field": "lo", "type": "quantitative"}, "y2": {"field": "hi"}}},
      {"data": {"name": "derr"}, "mark": {"type": "tick", "orient": "horizontal", "color": "#1f77b4", "size": 22, "thickness": 2.5, "opacity": 1},
       "encoding": {"x": {"field": "p", "type": "quantitative"}, "y": {"field": "lo", "type": "quantitative"}}},
      {"data": {"name": "derr"}, "mark": {"type": "tick", "orient": "horizontal", "color": "#1f77b4", "size": 22, "thickness": 2.5, "opacity": 1},
       "encoding": {"x": {"field": "p", "type": "quantitative"}, "y": {"field": "hi", "type": "quantitative"}}},
      {"data": {"name": "d"}, "mark": {"type": "line", "color": "black", "strokeWidth": 2.6},
       "encoding": {"x": {"field": "p", "type": "quantitative"}, "y": {"field": "v", "type": "quantitative"},
         "strokeDash": {"field": "s", "type": "nominal", "scale": {"domain": ["Critical intensity (Ic)", "Average intensity (Ia)"], "range": [[11, 5], [1, 0]]}, "legend": null}}},
      {"data": {"name": "d"}, "transform": [{"filter": "datum.s === 'Critical intensity (Ic)'"}], "mark": {"type": "point", "shape": "circle", "filled": true, "color": "black", "size": 95, "opacity": 1},
       "encoding": {"x": {"field": "p", "type": "quantitative"}, "y": {"field": "v", "type": "quantitative"}}},
      {"data": {"name": "d"}, "transform": [{"filter": "datum.s === 'Average intensity (Ia)'"}], "mark": {"type": "point", "shape": "square", "filled": true, "color": "black", "size": 115, "opacity": 1},
       "encoding": {"x": {"field": "p", "type": "quantitative"}, "y": {"field": "v", "type": "quantitative"}}},
      {"data": {"name": "d"}, "mark": {"type": "point", "opacity": 0, "size": 1444, "filled": false, "color": "black"},
       "encoding": {"x": {"field": "p", "type": "quantitative"}, "y": {"field": "v", "type": "quantitative"},
         "shape": {"field": "s", "type": "nominal", "scale": {"domain": ["Critical intensity (Ic)", "Average intensity (Ia)"], "range": ["M-1,0H-0.56M-0.3,0H0.3M0.56,0H1M0.22,0A0.22,0.22,0,1,1,-0.22,0A0.22,0.22,0,1,1,0.22,0ZM0.11,0A0.11,0.11,0,1,1,-0.11,0A0.11,0.11,0,1,1,0.11,0ZM0.02,0A0.02,0.02,0,1,1,-0.02,0A0.02,0.02,0,1,1,0.02,0Z", "M-1,0H1M-0.22,-0.22H0.22V0.22H-0.22ZM-0.11,-0.11H0.11V0.11H-0.11ZM-0.02,-0.02H0.02V0.02H-0.02Z"]},
           "legend": {"title": null, "orient": "bottom-right", "offset": 9, "padding": 7, "strokeColor": "#d0d0d0", "cornerRadius": 4, "fillColor": "white", "labelFontSize": 19, "labelColor": "black", "labelLimit": 400, "symbolSize": 1444, "symbolStrokeWidth": 2.5, "symbolStrokeColor": "black", "symbolOpacity": 1, "clipHeight": 20, "rowPadding": 9, "labelOffset": 14}}}}
    ]
  },
  {
    "width": 531, "height": 264,
    "title": "(e) Critical intensity (Ic) of cold events",
    "data": {"name": "e"},
    "mark": {"type": "line", "strokeWidth": 2.6},
    "encoding": {
      "x": {"field": "t", "type": "quantitative", "scale": {"domain": [1874, 2000], "nice": false, "zero": false}, "axis": {"values": [1880, 1900, 1920, 1940, 1960, 1980, 2000], "format": "d", "title": null}},
      "y": {"field": "v", "type": "quantitative", "scale": {"domain": [-0.3, 0], "nice": false, "zero": false}, "axis": {"values": [-0.3, -0.25, -0.2, -0.15, -0.1, -0.05, 0], "format": ".2f", "title": "Intensity (°C)"}},
      "color": {"field": "N", "type": "nominal", "scale": {"domain": ["N=10", "N=20", "N=30", "N=40", "N=50"], "range": ["green", "#1e90ff", "red", "orange", "purple"]},
        "legend": {"title": null, "orient": "none", "legendX": 885, "legendY": 678, "direction": "horizontal", "symbolType": "stroke", "symbolSize": 1936, "symbolStrokeWidth": 3, "clipHeight": 20, "labelFontSize": 20, "labelColor": "black", "labelOffset": 15, "columnPadding": 29, "padding": 6, "strokeColor": "#d0d0d0", "cornerRadius": 4, "fillColor": "white"}}
    }
  },
  {
    "width": 531, "height": 264,
    "title": "(f) Frequency of cold events",
    "layer": [
      {"mark": {"type": "rule", "color": "black", "strokeWidth": 2.4, "strokeDash": [10, 6]}, "encoding": {"y": {"datum": 1, "type": "quantitative"}}},
      {"data": {"name": "f"}, "mark": {"type": "line", "strokeWidth": 2.6},
       "encoding": {
         "x": {"field": "t", "type": "quantitative", "scale": {"domain": [1874, 2000], "nice": false, "zero": false}, "axis": {"values": [1880, 1900, 1920, 1940, 1960, 1980, 2000], "format": "d", "title": null}},
         "y": {"field": "v", "type": "quantitative", "scale": {"domain": [0, 10], "nice": false, "zero": false}, "axis": {"values": [0, 2, 4, 6, 8, 10], "format": "d", "title": ["Frequency", "(times per N years)"]}},
         "color": {"field": "N", "type": "nominal", "scale": {"domain": ["N=10", "N=20", "N=30", "N=40", "N=50"], "range": ["green", "#1e90ff", "red", "orange", "purple"]},
           "legend": {"title": null, "orient": "none", "legendX": 885, "legendY": 678, "direction": "horizontal", "symbolType": "stroke", "symbolSize": 1936, "symbolStrokeWidth": 3, "clipHeight": 20, "labelFontSize": 20, "labelColor": "black", "labelOffset": 15, "columnPadding": 29, "padding": 6, "strokeColor": "#d0d0d0", "cornerRadius": 4, "fillColor": "white"}}
       }}
    ]
  }
]
}
